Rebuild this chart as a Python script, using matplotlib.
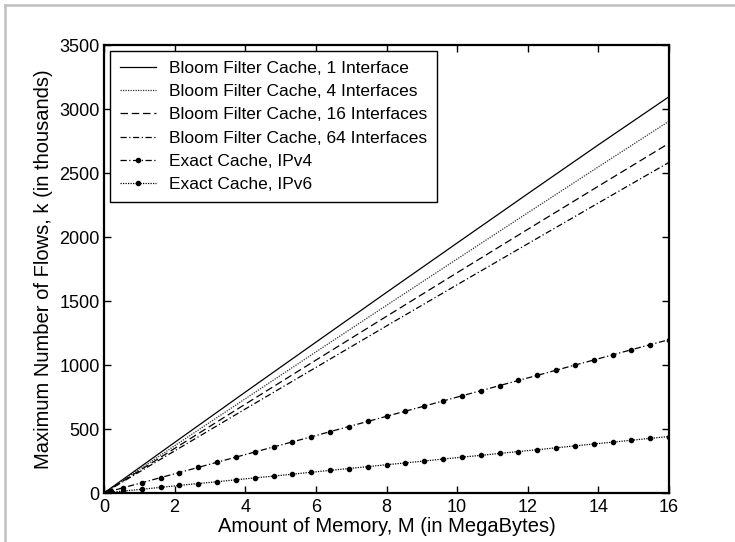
import matplotlib
matplotlib.use("Agg")
import matplotlib.pyplot as plt
from matplotlib.lines import Line2D

plt.rcParams['font.family'] = ['Liberation Sans', 'DejaVu Sans']

# Bloom filter caches, sampled every 2 MB
mem_bloom = [0, 2, 4, 6, 8, 10, 12, 14, 16]
bloom_1 = [0, 395, 788, 1178, 1567, 1953, 2338, 2720, 3096]
bloom_4 = [0, 369, 736, 1102, 1466, 1828, 2189, 2548, 2905]
bloom_16 = [0, 348, 694, 1038, 1380, 1721, 2060, 2397, 2732]
bloom_64 = [0, 329, 656, 981, 1305, 1627, 1947, 2266, 2583]

# Exact caches
mem_exact = [0, 0.2, 0.53, 1.07, 1.6, 2.13, 2.67, 3.2, 3.73, 4.27, 4.8, 5.33,
             5.87, 6.4, 6.93, 7.47, 8.0, 8.53, 9.07, 9.6, 10.13, 10.67, 11.2,
             11.73, 12.27, 12.8, 13.33, 13.87, 14.4, 14.93, 15.47, 16.0]
exact_v4 = [0, 15, 40, 80, 120, 160, 200, 240, 280, 320, 360, 399,
            439, 479, 519, 559, 599, 639, 679, 719, 759, 799, 839,
            879, 919, 959, 999, 1039, 1079, 1119, 1159, 1198]
exact_v6 = [0, 6, 15, 29, 44, 59, 74, 88, 103, 118, 132, 147,
            162, 177, 191, 206, 221, 235, 250, 265, 280, 294, 309,
            324, 338, 353, 368, 383, 397, 412, 427, 441]

labels = ["Bloom Filter Cache, 1 Interface",
          "Bloom Filter Cache, 4 Interfaces",
          "Bloom Filter Cache, 16 Interfaces",
          "Bloom Filter Cache, 64 Interfaces",
          "Exact Cache, IPv4",
          "Exact Cache, IPv6"]
x_ticks = [0, 2, 4, 6, 8, 10, 12, 14, 16]
y_ticks = [0, 500, 1000, 1500, 2000, 2500, 3000, 3500]

fig = plt.figure(figsize=(7.35, 5.42), dpi=100)
ax = fig.add_axes([104 / 735, 1 - 493 / 542, 565 / 735, 448 / 542])

lw = 0.9
dot = (0, (1, 1))
dash = (0, (6, 3))
dashdot = (0, (5, 2, 1, 2))
ms = 3.0
ax.plot(mem_bloom, bloom_1, color='black', lw=lw, ls='-')
ax.plot(mem_bloom, bloom_4, color='#333333', lw=lw, ls=dot)
ax.plot(mem_bloom, bloom_16, color='black', lw=lw, ls=dash)
ax.plot(mem_bloom, bloom_64, color='black', lw=lw, ls=dashdot)
ax.plot(mem_exact, exact_v4, color='black', lw=lw, ls=dashdot,
        marker='o', ms=ms, mfc='black', mec='black')
ax.plot(mem_exact, exact_v6, color='black', lw=lw, ls=dot,
        marker='o', ms=ms, mfc='black', mec='black')

ax.set_xlim(0, 16)
ax.set_ylim(0, 3500)
ax.set_xticks(x_ticks)
ax.set_yticks(y_ticks)
ax.tick_params(direction='in', length=5, width=1, labelsize=13,
               top=True, right=True)
ax.tick_params(axis='x', pad=4)
ax.tick_params(axis='y', pad=3)
for s in ax.spines.values():
    s.set_linewidth(1.6)

ax.set_xlabel("Amount of Memory, M (in MegaBytes)", fontsize=14.5, labelpad=1)
ax.set_ylabel("Maximum Number of Flows, k (in thousands)", fontsize=14.5, labelpad=5)

handles = [
    Line2D([], [], color='black', lw=lw, ls='-'),
    Line2D([], [], color='#333333', lw=lw, ls=dot),
    Line2D([], [], color='black', lw=lw, ls=dash),
    Line2D([], [], color='black', lw=lw, ls=dashdot),
    Line2D([], [], color='black', lw=lw, ls=dashdot, marker='o', ms=ms),
    Line2D([], [], color='black', lw=lw, ls=dot, marker='o', ms=ms),
]
leg = ax.legend(handles, labels, loc='upper left', fontsize=12.5,
                frameon=True, fancybox=False, edgecolor='black',
                borderaxespad=0.35, handlelength=2.1, handletextpad=0.75,
                labelspacing=0.47, borderpad=0.55)
leg.get_frame().set_linewidth(1.0)
leg.get_frame().set_facecolor('white')
leg.get_frame().set_alpha(1)

# gray page border along the top and left edges
fig.add_artist(Line2D([5 / 735, 1], [1 - 5 / 542, 1 - 5 / 542],
                      transform=fig.transFigure, color='#c0c0c0', lw=1.8))
fig.add_artist(Line2D([5 / 735, 5 / 735], [0, 1 - 5 / 542],
                      transform=fig.transFigure, color='#c0c0c0', lw=1.8))

fig.savefig("out.png", dpi=100)
